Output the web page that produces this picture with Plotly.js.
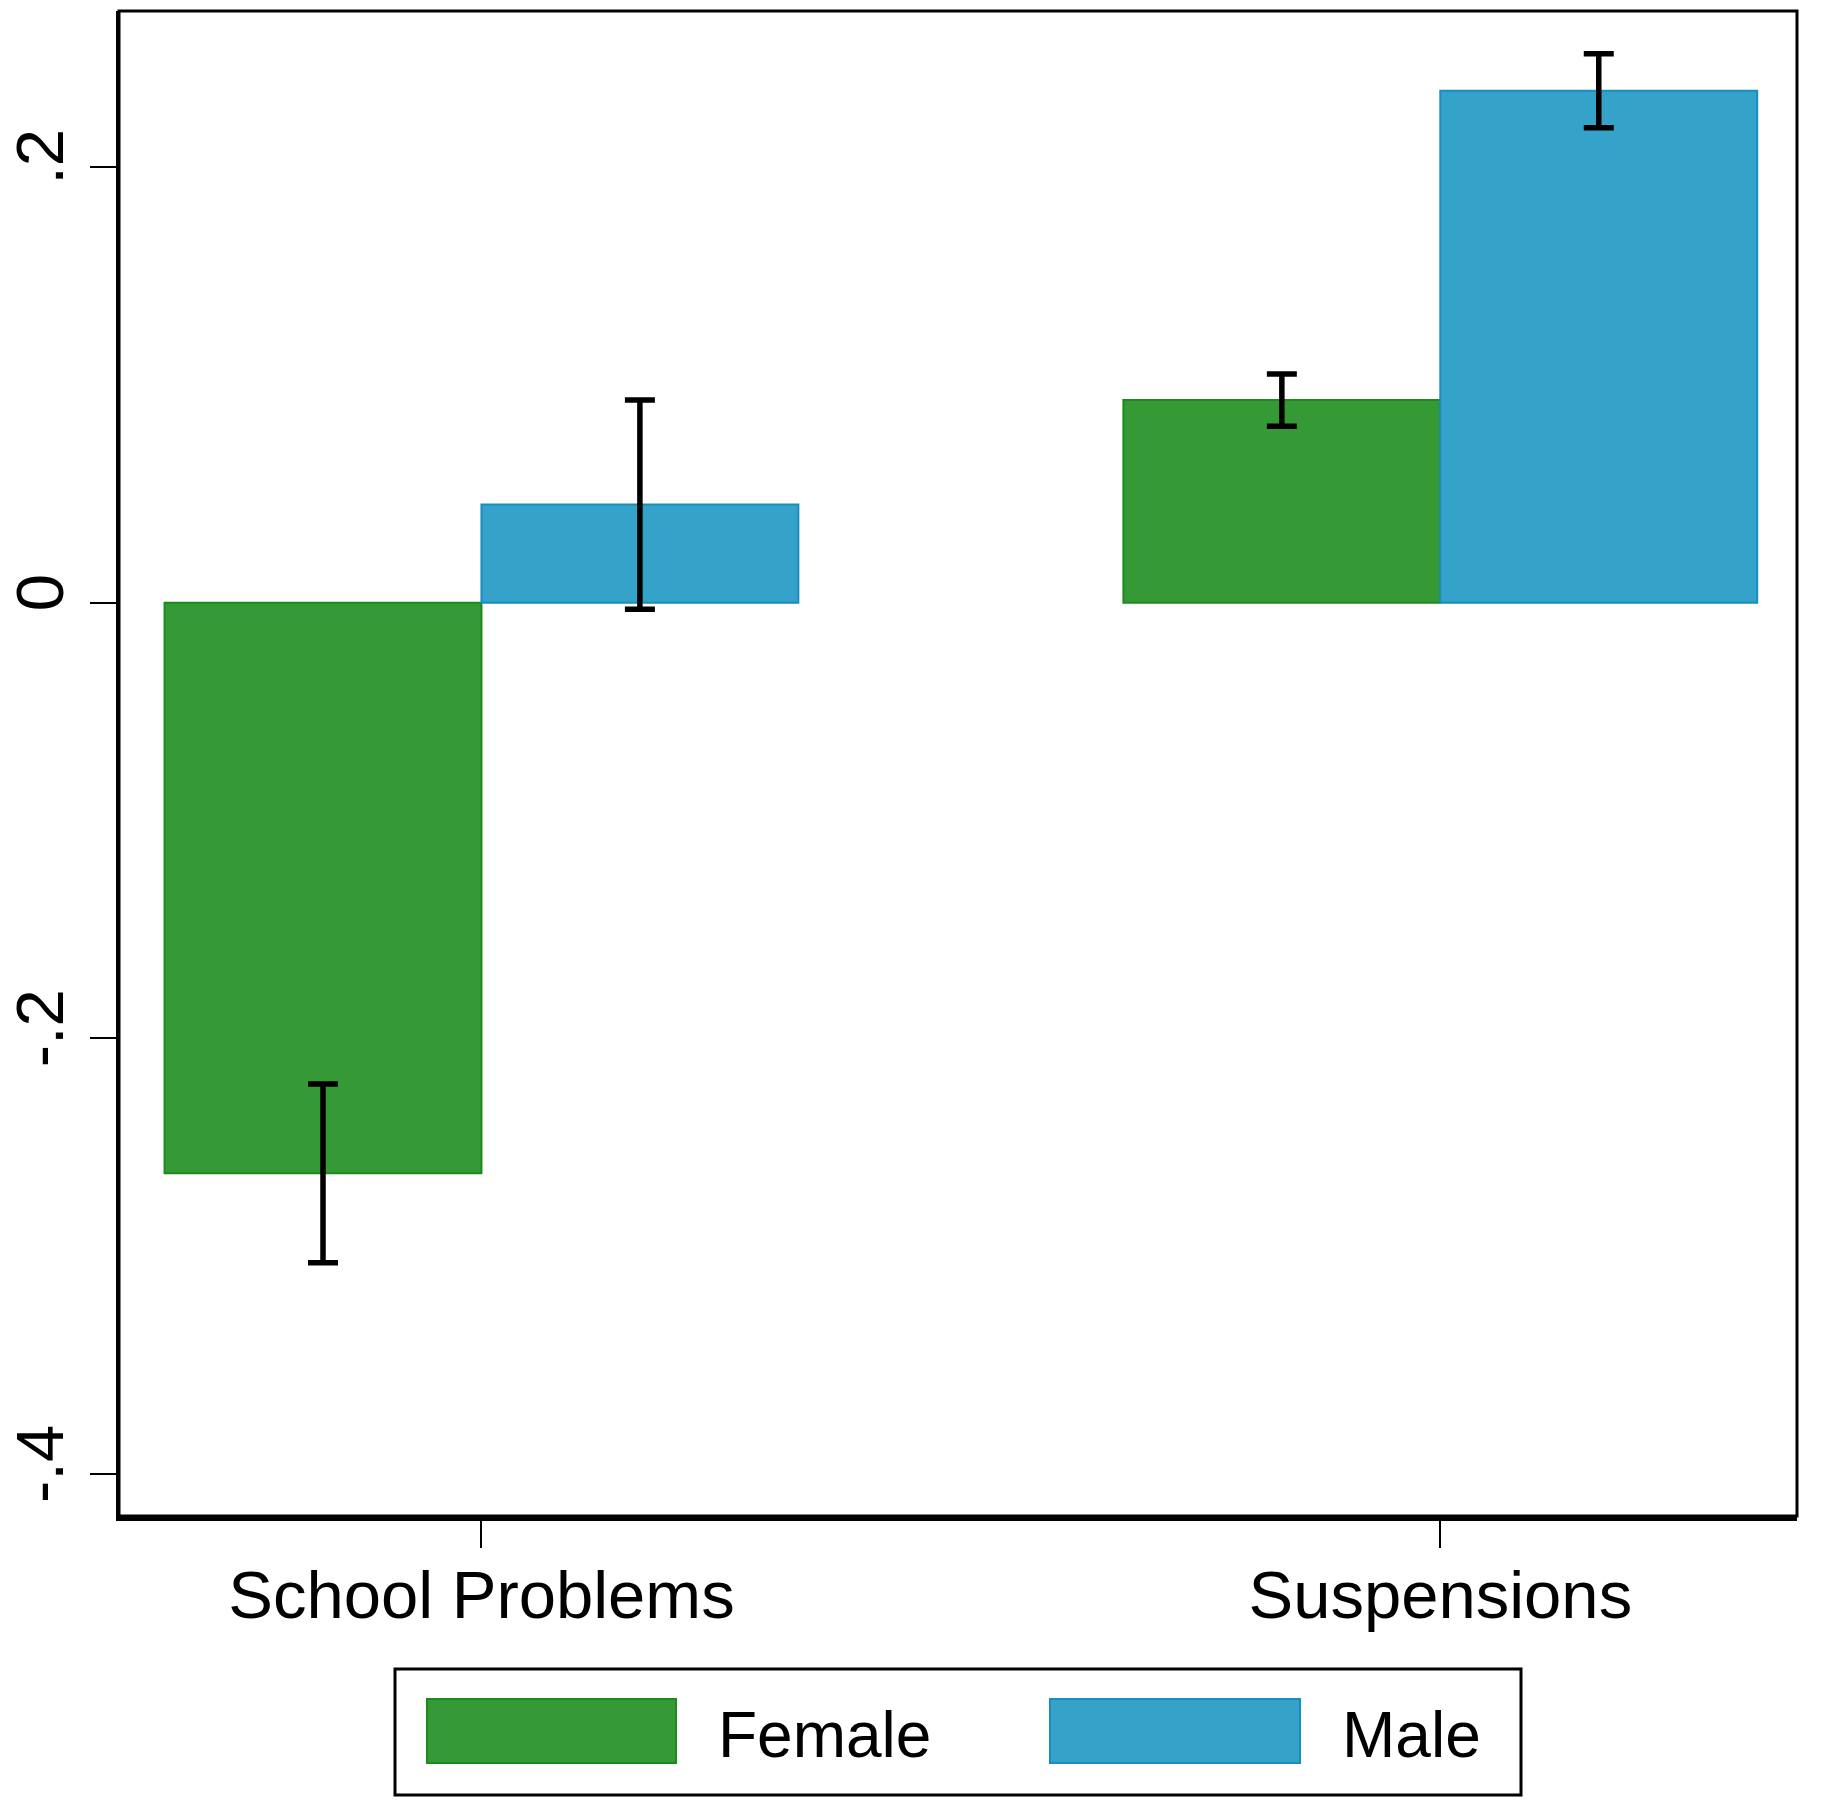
<!DOCTYPE html>
<html>
<head>
<meta charset="utf-8">
<script src="https://cdn.plot.ly/plotly-3.0.1.min.js"></script>
<style>html,body{margin:0;padding:0;background:#fff;}#chart{width:1828px;height:1808px;}</style>
</head>
<body>
<div id="chart"></div>
<script>
var categories = ["School Problems", "Suspensions"];
var seriesNames = ["Female", "Male"];
var femaleValues = [-0.262, 0.093];
var femaleErrors = [0.041, 0.012];
var maleValues = [0.045, 0.235];
var maleErrors = [0.048, 0.017];
var yTickVals = [-0.4, -0.2, 0, 0.2];
var yTickText = ["-.4", "-.2", "0", ".2"];

var colors = {Female: "#359935", Male: "#34A2C9"};
var lineColors = {Female: "#1c8a1c", Male: "#1a8dc0"};
var font = "Liberation Sans, Arial, Helvetica, sans-serif";

function barTrace(name, vals, errs) {
  return {
    type: "bar", name: name, x: categories, y: vals,
    marker: {color: colors[name], line: {color: lineColors[name], width: 2}},
    error_y: {type: "data", array: errs, visible: true, color: "#000", thickness: 5.5, width: 15},
    showlegend: false
  };
}

var traces = [
  barTrace("Female", femaleValues, femaleErrors),
  barTrace("Male", maleValues, maleErrors)
];

// custom legend (paper coordinates)
var W = 1828 - 119 - 31, H = 1808 - 11 - 292;
function px(x) { return (x - 119) / W; }
function py(y) { return (1516 - y) / H; }

var shapes = [
  {type: "rect", xref: "paper", yref: "paper", x0: 0, x1: 1, y0: 0, y1: 1,
   line: {color: "#000", width: 3}, fillcolor: "rgba(0,0,0,0)"},
  {type: "rect", xref: "paper", yref: "paper", x0: px(395), x1: px(1521), y0: py(1795), y1: py(1669),
   line: {color: "#000", width: 3}, fillcolor: "#fff"},
  {type: "rect", xref: "paper", yref: "paper", x0: px(427), x1: px(676), y0: py(1763), y1: py(1699),
   line: {color: lineColors.Female, width: 2}, fillcolor: colors.Female},
  {type: "rect", xref: "paper", yref: "paper", x0: px(1050), x1: px(1300), y0: py(1763), y1: py(1699),
   line: {color: lineColors.Male, width: 2}, fillcolor: colors.Male}
];
var annotations = [
  {xref: "paper", yref: "paper", x: px(716), y: py(1735), xanchor: "left", yanchor: "middle",
   text: seriesNames[0], showarrow: false, font: {family: font, size: 64, color: "#000"}},
  {xref: "paper", yref: "paper", x: px(1340), y: py(1735), xanchor: "left", yanchor: "middle",
   text: seriesNames[1], showarrow: false, font: {family: font, size: 64, color: "#000"}}
];

var layout = {
  width: 1828, height: 1808,
  margin: {l: 119, r: 31, t: 11, b: 292},
  paper_bgcolor: "#fff", plot_bgcolor: "#fff",
  barmode: "group", bargap: 0.339, bargroupgap: 0,
  font: {family: font, color: "#000"},
  xaxis: {
    type: "category", range: [-0.378, 1.372],
    showline: true, linecolor: "#000", linewidth: 5,
    ticks: "outside", ticklen: 27, tickwidth: 2, tickcolor: "#000",
    ticklabelstandoff: -10,
    tickfont: {family: font, size: 67, color: "#000"},
    showgrid: false, zeroline: false, fixedrange: true
  },
  yaxis: {
    range: [-0.4193, 0.2716],
    tickvals: yTickVals, ticktext: yTickText, tickangle: -90,
    showline: true, linecolor: "#000", linewidth: 3,
    ticks: "outside", ticklen: 26, tickwidth: 2, tickcolor: "#000",
    tickfont: {family: font, size: 67, color: "#000"},
    showgrid: false, zeroline: false, fixedrange: true
  },
  shapes: shapes,
  annotations: annotations
};

Plotly.newPlot("chart", traces, layout, {displayModeBar: false, staticPlot: true});
</script>
</body>
</html>
